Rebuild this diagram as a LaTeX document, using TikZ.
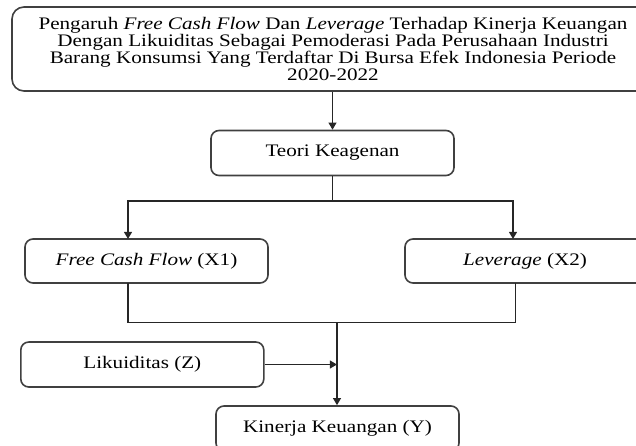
\documentclass[tikz,border=0pt]{standalone}
\usepackage{fontspec}
\setmainfont{Liberation Serif}[FakeStretch=1.2]
\usetikzlibrary{arrows.meta,calc}
\tikzset{
  box/.style  = {draw=black!75, rounded corners=4pt, line width=0.8pt,
                 minimum width=121.5pt, minimum height=22.5pt, inner sep=0pt,
                 font=\fontsize{8.8}{8.5}\selectfont},
  flow/.style = {-{Triangle[length=3.6pt,width=4pt]}, line width=0.75pt, black!85},
  link/.style = {line width=0.75pt, black!85},
}

\begin{document}
\begin{tikzpicture}[x=0.5pt,y=-0.5pt]
  \useasboundingbox (0,0) rectangle (636,445);
  \clip (0,0) rectangle (636,445);
  \node[box, rounded corners=6pt, minimum width=321pt, minimum height=42pt, align=center] (judul) at (333,49)
    {Pengaruh \textit{Free Cash Flow} Dan \textit{Leverage} Terhadap Kinerja Keuangan\\
     Dengan Likuiditas Sebagai Pemoderasi Pada Perusahaan Industri\\
     Barang Konsumsi Yang Terdaftar Di Bursa Efek Indonesia Periode\\
     2020-2022};
  \node[box] (teori) at (332.5,153) {Teori Keagenan};
  \node[box, minimum height=22pt] (fcf) at (146.5,261) {\textit{Free Cash Flow} (X1)};
  \node[box, minimum width=120pt, minimum height=22pt] (lev) at (525,261) {\textit{Leverage} (X2)};
  \node[box] (likuid) at (142.3,364.5) {Likuiditas (Z)};
  \node[box] (kinerja) at (337.5,428.5) {Kinerja Keuangan (Y)};
  % titik belok
  \coordinate (bagi) at (332.5,201);
  \coordinate (masuk1) at (128,239);
  \coordinate (masuk2) at (513,239);
  \coordinate (keluar1) at (128,283);
  \coordinate (keluar2) at (515.5,283);
  \coordinate (gabung) at (337,322.7);
  \draw[flow] (judul.south -| teori.north) -- (teori.north);
  \draw[link] (teori.south) -- (bagi);
  \draw[flow] (bagi) -| (masuk1);
  \draw[flow] (bagi) -| (masuk2);
  \draw[link] (keluar1) |- (gabung) -| (keluar2);
  \draw[flow] (gabung) -- (gabung |- kinerja.north);
  \draw[flow] (likuid.east) -- (likuid.east -| gabung);
\end{tikzpicture}
\end{document}
